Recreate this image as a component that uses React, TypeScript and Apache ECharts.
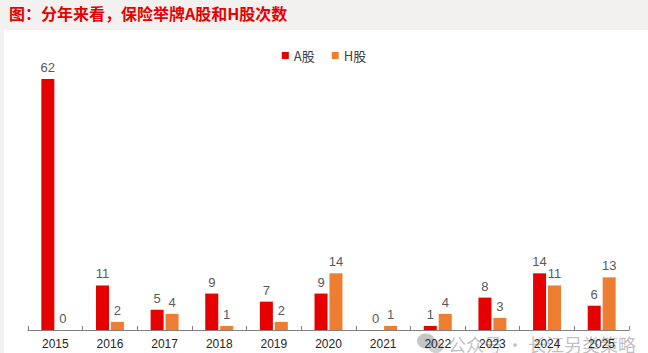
import React, { useEffect, useRef } from "react";
import * as echarts from "echarts";

const titleText = "图：分年来看，保险举牌A股和H股次数";
const years = ["2015", "2016", "2017", "2018", "2019", "2020", "2021", "2022", "2023", "2024", "2025"];
const aShares = [62, 11, 5, 9, 7, 9, 0, 1, 8, 14, 6];
const hShares = [0, 2, 4, 1, 2, 14, 1, 4, 3, 11, 13];
const seriesNames = ["A股", "H股"];
const watermark = "公众号 · 长江另类策略";

export default function App() {
  const ref = useRef<HTMLDivElement>(null);
  useEffect(() => {
    document.body.style.margin = "0";
    if (!ref.current) return;
    const chart = echarts.init(ref.current, null, { renderer: "svg" });
    const labelStyle = {
      show: true,
      position: "top",
      distance: 5,
      color: "#595959",
      fontSize: 13,
      fontFamily: "Liberation Sans, Arial, sans-serif",
    };
    chart.setOption({
      animation: false,
      backgroundColor: "#f2f1ef",
      title: {
        text: titleText,
        left: 4,
        top: 0,
        textStyle: {
          color: "#e60000",
          fontSize: 16,
          fontWeight: "bold",
          fontFamily: "Noto Sans CJK SC, sans-serif",
        },
      },
      graphic: [
        {
          type: "rect",
          z: 0,
          silent: true,
          shape: { x: 4, y: 30, width: 644, height: 323 },
          style: { fill: "#ffffff" },
        },
        {
          type: "group",
          z: 100,
          silent: true,
          children: [
            { type: "ellipse", shape: { cx: 426, cy: 341, rx: 9, ry: 7.5 }, style: { fill: "rgba(150,150,150,0.55)" } },
            { type: "ellipse", shape: { cx: 436, cy: 347, rx: 7.5, ry: 6 }, style: { fill: "rgba(170,170,170,0.55)" } },
            {
              type: "text",
              x: 448,
              y: 344,
              style: {
                text: watermark,
                fill: "rgba(150,150,150,0.6)",
                fontSize: 18,
                fontFamily: "Noto Sans CJK SC, sans-serif",
                verticalAlign: "middle",
              },
            },
          ],
        },
      ],
      legend: {
        data: seriesNames,
        top: 44,
        left: "center",
        itemWidth: 7,
        itemHeight: 7,
        itemGap: 17,
        icon: "rect",
        textStyle: { color: "#404040", fontSize: 13, fontFamily: "Noto Sans CJK SC, sans-serif" },
      },
      grid: { left: 28, right: 19, top: 79, bottom: 23, containLabel: false },
      xAxis: {
        type: "category",
        data: years,
        axisLine: { lineStyle: { color: "#7f7f7f", width: 1 } },
        axisTick: { show: true, inside: true, length: 4, lineStyle: { color: "#7f7f7f" } },
        axisLabel: {
          color: "#262626",
          fontSize: 12,
          margin: 8,
          fontFamily: "Liberation Sans, Arial, sans-serif",
        },
      },
      yAxis: {
        type: "value",
        min: 0,
        max: 62,
        show: false,
        splitLine: { show: false },
      },
      series: [
        {
          name: seriesNames[0],
          type: "bar",
          data: aShares,
          barWidth: 13,
          barGap: "15%",
          itemStyle: { color: "#e60000" },
          label: labelStyle,
        },
        {
          name: seriesNames[1],
          type: "bar",
          data: hShares,
          barWidth: 13,
          itemStyle: { color: "#ed7d31" },
          label: labelStyle,
        },
      ],
    });
    return () => chart.dispose();
  }, []);
  return <div ref={ref} style={{ width: 648, height: 353 }} />;
}
